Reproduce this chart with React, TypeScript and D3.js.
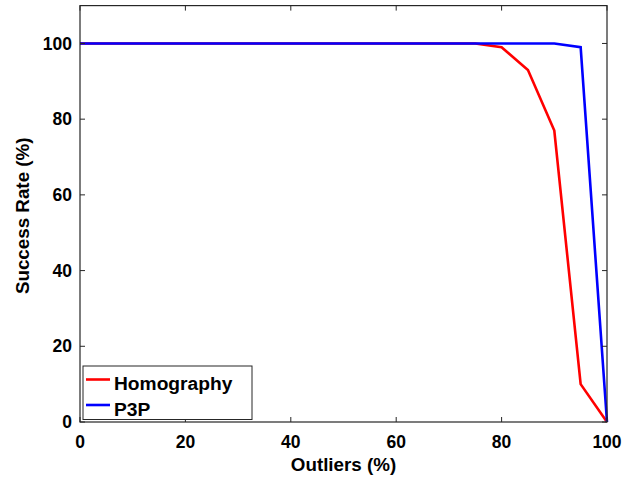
import React from "react";
import * as d3 from "d3";

const outliers = [0, 5, 10, 15, 20, 25, 30, 35, 40, 45, 50, 55, 60, 65, 70, 75, 80, 85, 90, 95, 100];
const homography = [100, 100, 100, 100, 100, 100, 100, 100, 100, 100, 100, 100, 100, 100, 100, 100, 99, 93, 77, 10, 0];
const p3p = [100, 100, 100, 100, 100, 100, 100, 100, 100, 100, 100, 100, 100, 100, 100, 100, 100, 100, 100, 99, 0];
const xTicks = [0, 20, 40, 60, 80, 100];
const yTicks = [0, 20, 40, 60, 80, 100];
const seriesNames = ["Homography", "P3P"];
const seriesColors = ["#ff0000", "#0000ff"];

const W = 622, H = 480;
const L = 80, R = 607, T = 5.6, B = 422;
const FONT = "'Liberation Sans', Arial, Helvetica, sans-serif";

export default function App() {
  const x = d3.scaleLinear().domain([0, 100]).range([L, R]);
  const y = d3.scaleLinear().domain([0, 110]).range([B, T]);
  const line = d3.line<number>().x((_, i) => x(outliers[i])).y((d) => y(d));
  const series = [homography, p3p];
  const tl = 5;
  return (
    <svg width={W} height={H} style={{ position: "absolute", left: 0, top: 0 }} xmlns="http://www.w3.org/2000/svg">
      <rect x={0} y={0} width={W} height={H} fill="#fff" />
      <rect x={L} y={T} width={R - L} height={B - T} fill="#fff" />
      {series.map((s, i) => (
        <path key={i} d={line(s) || ""} fill="none" stroke={seriesColors[i]} strokeWidth={2.6} strokeLinejoin="miter" />
      ))}
      <rect x={L} y={T} width={R - L} height={B - T} fill="none" stroke="#262626" strokeWidth={1.2} />
      {xTicks.map((t) => (
        <g key={"x" + t}>
          <line x1={x(t)} x2={x(t)} y1={B} y2={B - tl} stroke="#262626" strokeWidth={1} />
          <line x1={x(t)} x2={x(t)} y1={T} y2={T + tl} stroke="#262626" strokeWidth={1} />
          <text x={x(t)} y={448} textAnchor="middle" fontFamily={FONT} fontWeight="bold" fontSize={17.5} fill="#000">{t}</text>
        </g>
      ))}
      {yTicks.map((t) => (
        <g key={"y" + t}>
          <line x1={L} x2={L + tl} y1={y(t)} y2={y(t)} stroke="#262626" strokeWidth={1} />
          <line x1={R} x2={R - tl} y1={y(t)} y2={y(t)} stroke="#262626" strokeWidth={1} />
          <text x={72} y={y(t) + 6.2} textAnchor="end" fontFamily={FONT} fontWeight="bold" fontSize={17.5} fill="#000">{t}</text>
        </g>
      ))}
      <text x={(L + R) / 2} y={470.5} textAnchor="middle" fontFamily={FONT} fontWeight="bold" fontSize={18.8} fill="#000">Outliers (%)</text>
      <text transform={`translate(28.5, ${(T + B) / 2 + 2}) rotate(-90)`} textAnchor="middle" fontFamily={FONT} fontWeight="bold" fontSize={18.8} fill="#000">Success Rate (%)</text>
      <g>
        <rect x={83} y={366} width={169} height={53.5} fill="#fff" stroke="#262626" strokeWidth={1} />
        {seriesNames.map((n, i) => (
          <g key={n}>
            <line x1={86} x2={110} y1={379.5 + i * 25.5} y2={379.5 + i * 25.5} stroke={seriesColors[i]} strokeWidth={2.6} />
            <text x={114} y={390 + i * 25.5} fontFamily={FONT} fontWeight="bold" fontSize={19.2} fill="#000">{n}</text>
          </g>
        ))}
      </g>
    </svg>
  );
}
